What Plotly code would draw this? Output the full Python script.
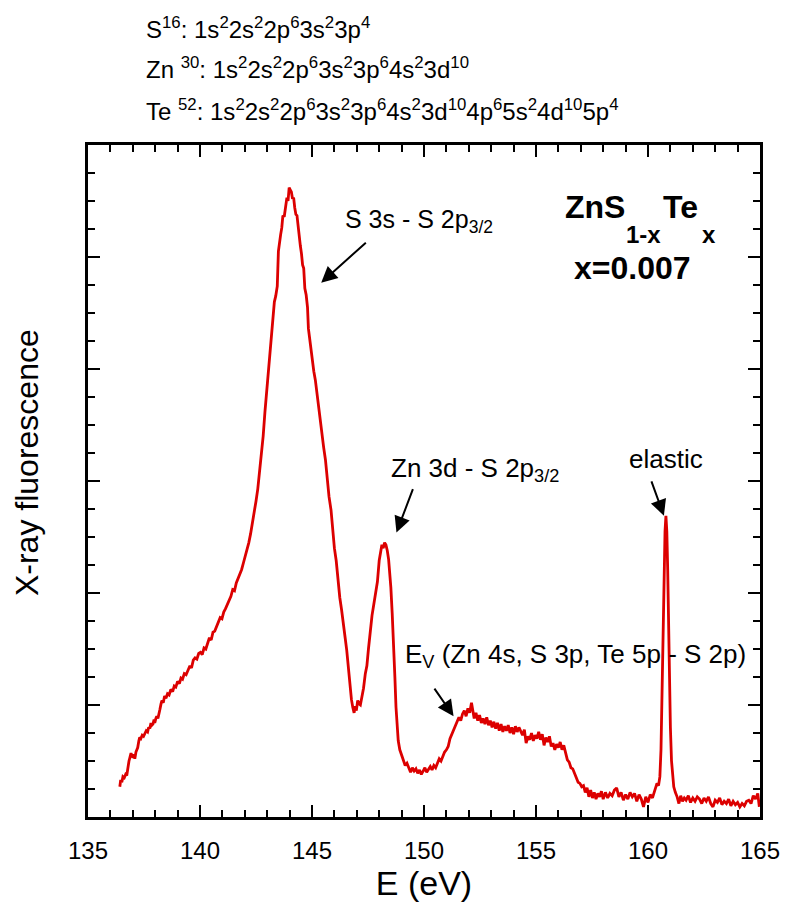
import plotly.graph_objects as go

# Energy (eV) and X-ray fluorescence intensity (arb. units)
energy = [
136.42,136.46,136.51,136.56,136.62,136.68,136.73,136.78,136.83,136.87,136.92,136.96,137.01,137.05,137.09,137.14,137.18,137.22,137.27,137.31,
137.36,137.42,137.48,137.54,137.60,137.66,137.71,137.76,137.81,137.85,137.90,137.95,137.98,138.03,138.07,138.12,138.17,138.21,138.26,138.30,
138.36,138.42,138.48,138.55,138.62,138.70,138.78,138.85,138.92,139.00,139.08,139.15,139.22,139.30,139.38,139.46,139.55,139.62,139.70,139.78,
139.86,139.94,140.02,140.10,140.18,140.26,140.34,140.42,140.50,140.58,140.66,140.74,140.82,140.90,140.98,141.06,141.14,141.22,141.30,141.38,
141.46,141.54,141.62,141.70,141.78,141.86,141.94,142.02,142.10,142.18,142.26,142.34,142.42,142.50,142.58,142.66,142.74,142.82,142.90,142.98,
143.06,143.12,143.20,143.27,143.32,143.38,143.45,143.50,143.55,143.60,143.65,143.70,143.76,143.82,143.88,143.93,143.98,144.03,144.08,144.13,
144.18,144.23,144.28,144.33,144.38,144.43,144.48,144.53,144.58,144.63,144.68,144.74,144.80,144.84,144.90,144.96,145.02,145.08,145.15,145.22,
145.30,145.37,145.45,145.52,145.60,145.68,145.76,145.85,145.93,146.00,146.08,146.16,146.24,146.32,146.40,146.48,146.55,146.62,146.70,146.76,
146.82,146.88,146.93,146.98,147.04,147.10,147.16,147.22,147.30,147.38,147.45,147.52,147.60,147.68,147.76,147.84,147.92,148.00,148.06,148.12,
148.18,148.24,148.30,148.36,148.42,148.47,148.52,148.58,148.64,148.70,148.75,148.80,148.85,148.92,149.00,149.08,149.16,149.24,149.32,149.40,
149.48,149.56,149.64,149.72,149.80,149.88,149.96,150.04,150.12,150.20,150.28,150.36,150.44,150.52,150.60,150.68,150.76,150.84,150.92,151.00,
151.08,151.16,151.24,151.32,151.40,151.48,151.56,151.64,151.72,151.80,151.88,151.96,152.04,152.12,152.18,152.24,152.32,152.40,152.48,152.56,
152.64,152.72,152.80,152.88,152.96,153.04,153.12,153.20,153.28,153.36,153.44,153.52,153.60,153.68,153.76,153.84,153.92,154.00,154.08,154.16,
154.24,154.32,154.40,154.48,154.56,154.64,154.72,154.80,154.88,154.96,155.04,155.12,155.20,155.28,155.36,155.44,155.52,155.60,155.68,155.76,
155.84,155.92,156.00,156.08,156.16,156.24,156.32,156.40,156.48,156.56,156.64,156.72,156.80,156.88,156.96,157.04,157.12,157.20,157.28,157.36,
157.44,157.52,157.60,157.68,157.76,157.84,157.92,158.00,158.10,158.20,158.30,158.40,158.50,158.60,158.70,158.80,158.90,159.00,159.10,159.20,
159.30,159.40,159.50,159.60,159.70,159.80,159.90,160.00,160.10,160.20,160.30,160.40,160.47,160.53,160.58,160.63,160.67,160.72,160.76,160.80,
160.84,160.88,160.92,160.96,161.00,161.05,161.10,161.15,161.22,161.30,161.38,161.46,161.54,161.62,161.70,161.80,161.90,162.00,162.10,162.20,
162.30,162.40,162.50,162.60,162.70,162.80,162.90,163.00,163.10,163.20,163.30,163.40,163.50,163.60,163.70,163.80,163.90,164.00,164.10,164.20,
164.30,164.40,164.50,164.60,164.70,164.80,164.90,164.97,
]
intensity = [
0.27,0.33,0.31,0.36,0.35,0.38,0.37,0.45,0.50,0.53,0.57,0.55,0.53,0.56,0.52,0.58,0.60,0.62,0.68,0.71,
0.70,0.73,0.72,0.75,0.77,0.76,0.80,0.79,0.84,0.82,0.83,0.87,0.84,0.88,0.90,0.88,0.95,0.96,1.01,1.04,
1.02,1.08,1.06,1.10,1.09,1.14,1.12,1.17,1.16,1.21,1.19,1.24,1.23,1.28,1.27,1.31,1.35,1.33,1.40,1.42,
1.41,1.46,1.47,1.45,1.51,1.50,1.56,1.60,1.58,1.65,1.66,1.70,1.74,1.78,1.77,1.83,1.86,1.90,1.94,1.97,
2.03,2.02,2.09,2.13,2.18,2.21,2.27,2.33,2.38,2.45,2.53,2.62,2.72,2.82,2.93,3.08,3.22,3.40,3.62,3.80,
3.98,4.15,4.35,4.52,4.60,4.65,4.74,5.05,5.16,5.20,5.26,5.37,5.36,5.47,5.53,5.50,5.62,5.60,5.58,5.52,
5.53,5.44,5.38,5.37,5.26,5.15,5.10,5.03,4.93,4.90,4.72,4.66,4.55,4.36,4.26,4.20,4.08,3.98,3.90,3.78,
3.64,3.56,3.42,3.30,3.19,3.02,2.86,2.74,2.55,2.40,2.29,2.10,1.96,1.85,1.70,1.60,1.49,1.32,1.13,1.05,
0.98,0.93,0.99,0.95,1.04,1.01,1.00,1.06,1.15,1.28,1.35,1.50,1.67,1.80,1.90,2.02,2.10,2.29,2.35,2.43,
2.40,2.45,2.43,2.38,2.30,2.18,2.05,1.82,1.58,1.25,0.98,0.80,0.68,0.60,0.55,0.50,0.46,0.48,0.43,0.40,
0.44,0.41,0.43,0.39,0.42,0.38,0.41,0.44,0.40,0.43,0.45,0.42,0.46,0.44,0.49,0.52,0.50,0.55,0.58,0.60,
0.63,0.70,0.74,0.77,0.82,0.86,0.89,0.86,0.92,0.95,0.90,0.97,0.93,1.02,0.96,0.88,0.93,0.86,0.91,0.84,
0.88,0.83,0.89,0.82,0.86,0.80,0.85,0.79,0.84,0.77,0.83,0.76,0.81,0.77,0.82,0.75,0.80,0.74,0.81,0.76,
0.80,0.77,0.73,0.78,0.66,0.72,0.69,0.75,0.68,0.73,0.70,0.76,0.69,0.74,0.64,0.71,0.67,0.72,0.63,0.66,
0.60,0.65,0.62,0.67,0.60,0.64,0.57,0.51,0.49,0.44,0.43,0.38,0.35,0.31,0.30,0.27,0.28,0.22,0.26,0.18,
0.24,0.17,0.22,0.16,0.21,0.18,0.23,0.16,0.22,0.17,0.21,0.19,0.24,0.26,0.18,0.22,0.15,0.20,0.16,0.22,
0.18,0.21,0.14,0.20,0.16,0.09,0.18,0.13,0.20,0.17,0.24,0.30,0.28,0.36,0.60,1.10,1.70,2.25,2.55,2.69,
2.55,2.20,1.70,1.20,0.80,0.50,0.33,0.27,0.22,0.18,0.12,0.19,0.14,0.17,0.15,0.19,0.13,0.17,0.14,0.18,
0.16,0.12,0.17,0.14,0.18,0.12,0.09,0.15,0.13,0.17,0.11,0.14,0.12,0.16,0.10,0.14,0.11,0.13,0.09,0.12,
0.10,0.14,0.15,0.12,0.19,0.16,0.21,0.09,
]

x_ticks = [135, 140, 145, 150, 155, 160, 165]

FONT = "Arial, Liberation Sans, Helvetica, sans-serif"
RED = "#dc0000"

fig = go.Figure()
fig.add_trace(go.Scatter(x=energy, y=intensity, mode="lines",
                         line=dict(color=RED, width=2.8), showlegend=False, hoverinfo="skip"))

axis_common = dict(showline=True, linecolor="black", linewidth=2.5, mirror="allticks",
                   ticks="inside", tickcolor="black", tickwidth=2, showgrid=False, zeroline=False,
                   automargin=False)

fig.update_xaxes(range=[135, 165], tickvals=x_ticks, ticklen=12, ticklabelstandoff=10,
                 minor=dict(dtick=1, ticklen=7, tickwidth=2, tickcolor="black", ticks="inside", showgrid=False),
                 tickfont=dict(family=FONT, size=24, color="black"),
                 title=dict(text="E (eV)", font=dict(family=FONT, size=34, color="black"), standoff=9),
                 **axis_common)
fig.update_yaxes(range=[0, 6], dtick=1, tick0=0, ticklen=12, showticklabels=False,
                 minor=dict(dtick=0.25, ticklen=7, tickwidth=2, tickcolor="black", ticks="inside", showgrid=False),
                 **axis_common)

anns = []
# y-axis title (placed as rotated text, slightly above the axis centre like the reference)
anns.append(dict(text="X-ray fluorescence", xref="paper", yref="paper", x=-0.091, y=0.528,
                 xanchor="center", yanchor="middle", textangle=-90, showarrow=False,
                 font=dict(family=FONT, size=32, color="black")))
# electron configurations above the plot
configs = [
    ("S<sup>16</sup>: 1s<sup>2</sup>2s<sup>2</sup>2p<sup>6</sup>3s<sup>2</sup>3p<sup>4</sup>", 1.174),
    ("Zn <sup>30</sup>: 1s<sup>2</sup>2s<sup>2</sup>2p<sup>6</sup>3s<sup>2</sup>3p<sup>6</sup>4s<sup>2</sup>3d<sup>10</sup>", 1.1145),
    ("Te <sup>52</sup>: 1s<sup>2</sup>2s<sup>2</sup>2p<sup>6</sup>3s<sup>2</sup>3p<sup>6</sup>4s<sup>2</sup>3d<sup>10</sup>4p<sup>6</sup>5s<sup>2</sup>4d<sup>10</sup>5p<sup>4</sup>", 1.052),
]
for txt, yy in configs:
    anns.append(dict(text=txt, xref="paper", yref="paper", x=0.084, y=yy, xanchor="left", yanchor="middle",
                     showarrow=False, font=dict(family=FONT, size=24, color="black")))

lab_font = dict(family=FONT, size=25, color="black")
lab_font2 = dict(family=FONT, size=26, color="black")
bold_big = dict(family=FONT, size=32, color="black")
bold_small = dict(family=FONT, size=24, color="black")
anns += [
    dict(text="S 3s - S 2p<sub>3/2</sub>", x=146.4, y=5.32, xanchor="left", yanchor="middle", showarrow=False, font=lab_font),
    dict(text="Zn 3d - S 2p<sub>3/2</sub>", x=148.42, y=3.10, xanchor="left", yanchor="middle", showarrow=False, font=lab_font2),
    dict(text="elastic", x=160.79, y=3.20, xanchor="center", yanchor="middle", showarrow=False, font=lab_font2),
    dict(text="E<sub>V</sub> (Zn 4s, S 3p, Te 5p - S 2p)", x=149.07, y=1.44, xanchor="left", yanchor="middle", showarrow=False, font=lab_font2),
    # ZnS(1-x)Te(x) built from pieces to mimic the deep subscripts
    dict(text="<b>ZnS</b>", x=156.20, y=5.45, xanchor="left", yanchor="middle", showarrow=False, font=bold_big),
    dict(text="<b>1-x</b>", x=158.95, y=5.20, xanchor="left", yanchor="middle", showarrow=False, font=bold_small),
    dict(text="<b>Te</b>", x=160.58, y=5.45, xanchor="left", yanchor="middle", showarrow=False, font=bold_big),
    dict(text="<b>x</b>", x=162.33, y=5.20, xanchor="left", yanchor="middle", showarrow=False, font=bold_small),
    dict(text="<b>x=0.007</b>", x=159.30, y=4.90, xanchor="center", yanchor="middle", showarrow=False, font=bold_big),
]
# arrows (head at x,y ; tail at ax,ay in data coords)
arrows = [
    (145.41, 4.77, 147.47, 5.14),
    (148.77, 2.54, 149.53, 2.94),
    (160.71, 2.69, 160.13, 3.01),
    (151.32, 0.90, 150.42, 1.16),
]
for hx, hy, tx, ty in arrows:
    anns.append(dict(x=hx, y=hy, ax=tx, ay=ty, xref="x", yref="y", axref="x", ayref="y", text="",
                     showarrow=True, arrowhead=2, arrowsize=1.6, arrowwidth=2, arrowcolor="black"))

fig.update_layout(width=785, height=905, margin=dict(l=88, r=25, t=145, b=88, autoexpand=False),
                  paper_bgcolor="white", plot_bgcolor="white", annotations=anns,
                  font=dict(family=FONT, color="black"), hovermode=False)

# remove the default page margin so the figure fills the 785x905 window exactly
fig.write_html("out.html", config={"displayModeBar": False},
               post_script="document.body.style.margin='0';document.documentElement.style.overflow='hidden';")
